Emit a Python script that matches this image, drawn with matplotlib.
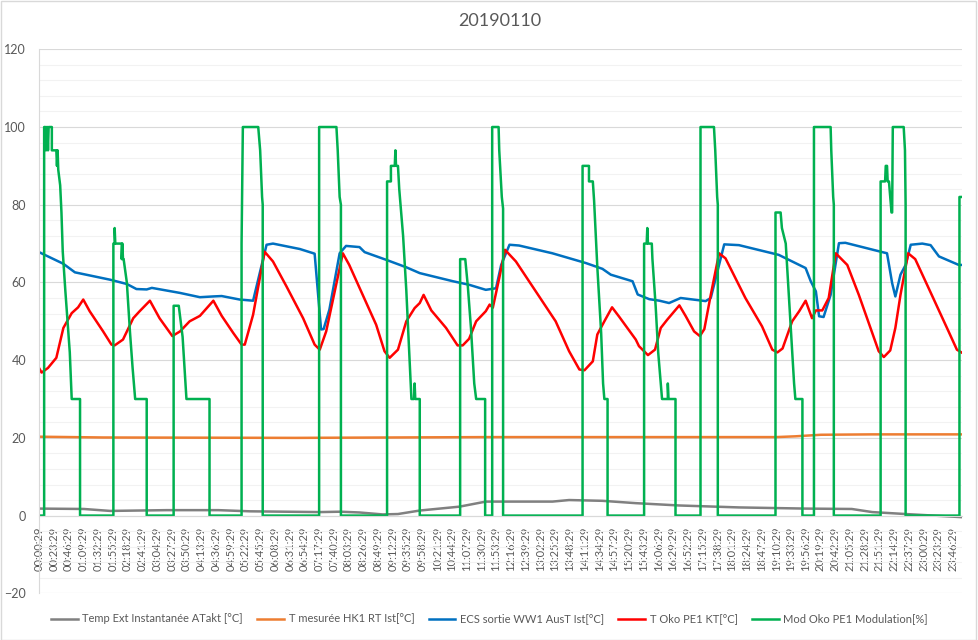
import numpy as np
import matplotlib
matplotlib.use("Agg")
import matplotlib.pyplot as plt

plt.rcParams['font.family'] = ['Lato', 'DejaVu Sans']

# time in minutes after 00:00:29
temp_ext_t = [0, 70, 111, 199, 280, 329, 438, 470, 500, 536, 560, 594, 656, 697, 801, 827, 879, 931,
              999, 1092, 1196, 1268, 1300, 1352, 1439]
temp_ext_v = [1.8, 1.7, 1.2, 1.4, 1.4, 1.1, 0.9, 1.0, 0.8, 0.3, 0.4, 1.3, 2.3, 3.6, 3.6, 4.0, 3.8, 3.2,
              2.6, 2.1, 1.8, 1.7, 0.9, 0.4, -0.4]

hk1_t = [0, 100, 400, 700, 1150, 1180, 1220, 1300, 1439]
hk1_v = [20.3, 20.1, 20.0, 20.2, 20.2, 20.4, 20.8, 20.9, 20.9]

ecs_t = [0, 38, 56, 111, 137, 152, 168, 176, 220, 251, 272, 285, 313, 334, 355, 365, 407, 430, 440,
         444, 453, 469, 479, 500, 508, 542, 573, 594, 646, 671, 697, 713, 721, 734, 749, 801, 853,
         879, 892, 926, 934, 952, 968, 983, 1001, 1040, 1048, 1069, 1092, 1154, 1196, 1204, 1212,
         1217, 1224, 1235, 1248, 1258, 1323, 1331, 1336, 1344, 1352, 1360, 1378, 1391, 1404, 1435, 1439]
ecs_v = [67.8, 64.8, 62.6, 60.7, 59.6, 58.3, 58.2, 58.6, 57.3, 56.2, 56.4, 56.5, 55.6, 55.3, 69.7,
         70.0, 68.6, 67.4, 47.9, 48.0, 53.0, 67.5, 69.4, 69.1, 67.8, 65.8, 63.9, 62.4, 60.3, 59.4,
         58.1, 58.5, 64.5, 69.7, 69.5, 67.5, 65.0, 63.5, 62.0, 60.3, 56.9, 55.7, 55.3, 54.7, 56.0,
         55.2, 56.0, 69.8, 69.6, 67.1, 63.7, 60.3, 57.7, 51.3, 51.1, 56.8, 70.1, 70.2, 67.5, 59.8,
         56.4, 62.0, 64.5, 69.7, 70.0, 69.6, 66.7, 64.5, 64.5]

oko_kt_t = [0, 4, 14, 27, 38, 51, 61, 69, 79, 100, 113, 118, 131, 147, 157, 173, 188, 208, 220, 235,
            251, 272, 285, 303, 316, 321, 334, 352, 365, 386, 412, 430, 438, 448, 458, 474, 484, 505,
            526, 539, 547, 560, 573, 586, 594, 600, 612, 635, 653, 661, 671, 682, 697, 703, 708, 718,
            727, 744, 775, 806, 827, 843, 851, 864, 871, 882, 894, 905, 931, 936, 950, 961, 970, 980,
            999, 1009, 1022, 1031, 1038, 1048, 1061, 1071, 1102, 1128, 1144, 1152, 1160, 1175, 1186,
            1196, 1206, 1212, 1222, 1232, 1243, 1261, 1279, 1310, 1318, 1328, 1336, 1344, 1356, 1367,
            1388, 1419, 1432, 1439]
oko_kt_v = [38.0, 36.8, 38.0, 40.6, 48.3, 52.1, 53.6, 55.6, 52.6, 47.4, 44.0, 43.8, 45.3, 50.8, 52.6,
            55.3, 50.8, 46.2, 47.4, 50.0, 51.4, 55.3, 51.4, 47.0, 44.0, 44.0, 51.7, 67.9, 65.4, 59.0,
            50.8, 44.0, 42.7, 47.4, 55.1, 67.5, 64.5, 56.8, 49.1, 42.3, 40.6, 42.7, 50.0, 53.4, 54.7,
            56.8, 52.8, 48.3, 43.8, 43.8, 45.5, 50.0, 52.6, 54.3, 53.5, 61.1, 68.4, 65.4, 57.7, 50.0,
            42.3, 37.6, 37.4, 39.7, 46.6, 50.0, 53.6, 51.2, 45.3, 43.6, 41.3, 42.7, 48.3, 50.4, 54.1,
            51.3, 47.4, 46.2, 48.0, 56.8, 67.5, 66.2, 56.0, 48.7, 42.7, 42.0, 43.0, 50.0, 52.6, 55.3,
            50.8, 52.8, 52.8, 56.0, 67.5, 64.5, 56.8, 42.3, 40.8, 42.5, 48.3, 56.8, 67.5, 66.0, 58.5,
            47.4, 42.7, 42.0]

mod_t = [0, 8, 8, 10, 11, 12, 13, 14, 15, 20, 20, 27, 28, 29, 30, 33, 35, 37, 41, 44, 48, 51, 64, 64,
         116, 116, 118, 118, 119, 129, 129, 130, 131, 132, 137, 142, 146, 150, 168, 168,
         210, 210, 218, 221, 224, 227, 230, 266, 266,
         316, 316, 318, 342, 345, 348, 349, 349,
         437, 437, 464, 466, 469, 471, 471,
         543, 543, 549, 549, 555, 556, 557, 560, 562, 568, 573, 577, 581, 585, 586, 587, 594, 594,
         657, 657, 665, 669, 674, 679, 682, 696, 696,
         707, 707, 717, 718, 722, 724, 724,
         848, 848, 858, 858, 864, 866, 871, 877, 880, 882, 887, 887,
         944, 944, 948, 949, 950, 956, 957, 962, 966, 970, 972, 981, 981, 982, 993, 993,
         1032, 1032, 1053, 1055, 1058, 1059, 1059,
         1149, 1149, 1157, 1159, 1165, 1170, 1175, 1178, 1180, 1191, 1191,
         1209, 1209, 1235, 1236, 1239, 1240, 1240,
         1313, 1313, 1320, 1321, 1323, 1324, 1326, 1330, 1331, 1332, 1349, 1351, 1352, 1352,
         1436, 1436, 1439]
mod_v = [0, 0, 100, 100, 94, 100, 100, 94, 100, 100, 94, 94, 90, 94, 89, 85, 78, 68, 58, 51, 42, 30, 30, 0,
         0, 70, 70, 74, 70, 70, 66, 70, 66, 66, 60, 47, 38, 30, 30, 0,
         0, 54, 54, 50, 46, 38, 30, 30, 0,
         0, 70, 100, 100, 94, 82, 80, 0,
         0, 100, 100, 94, 82, 80, 0,
         0, 86, 86, 90, 90, 94, 90, 90, 84, 72, 58, 44, 30, 30, 34, 30, 30, 0,
         0, 66, 66, 59, 48, 34, 30, 30, 0,
         0, 100, 100, 94, 82, 79, 0,
         0, 90, 90, 86, 86, 81, 64, 47, 34, 30, 30, 0,
         0, 70, 70, 74, 70, 70, 66, 54, 42, 34, 30, 30, 34, 30, 30, 0,
         0, 100, 100, 94, 82, 80, 0,
         0, 78, 78, 74, 70, 56, 42, 34, 30, 30, 0,
         0, 100, 100, 94, 82, 80, 0,
         0, 86, 86, 90, 90, 86, 86, 78, 78, 100, 100, 94, 80, 0,
         0, 82, 82]

tick_pos = list(range(0, 1440, 23))
tick_labels = ["%02d:%02d:29" % (p // 60, p % 60) for p in tick_pos]

txt = '#595959'
fig = plt.figure(figsize=(9.79, 6.4), dpi=100)
ax = fig.add_axes([38.7 / 979, 1 - 593.3 / 640, 923 / 979, 544 / 640])

ax.plot(temp_ext_t, temp_ext_v, color='#808080', lw=1.8, label='Temp Ext Instantanée ATakt [°C]')
ax.plot(hk1_t, hk1_v, color='#ED7D31', lw=1.8, label='T mesurée HK1 RT Ist[°C]')
ax.plot(ecs_t, ecs_v, color='#0070C0', lw=1.8, label='ECS sortie WW1 AusT Ist[°C]')
ax.plot(oko_kt_t, oko_kt_v, color='#FF0000', lw=1.8, label='T Oko PE1 KT[°C]')
ax.plot(mod_t, mod_v, color='#00B050', lw=1.8, label='Mod Oko PE1 Modulation[%]')

# category axis crosses the value axis at 0
ax.spines['bottom'].set_position(('data', 0))
ax.spines['bottom'].set_color('#d9d9d9')
ax.spines['left'].set_color('#d9d9d9')
ax.spines['top'].set_visible(False)
ax.spines['right'].set_visible(False)

ax.set_xlim(-0.5, 1439.5)
ax.set_ylim(-20, 120)
ax.set_yticks(range(-20, 121, 20))
ax.set_yticks(range(-20, 121, 4), minor=True)
ax.grid(axis='y', which='major', color='#d9d9d9', lw=0.8)
ax.grid(axis='y', which='minor', color='#f2f2f2', lw=0.8)
ax.set_axisbelow(True)

ax.set_xticks(tick_pos)
ax.set_xticklabels(tick_labels, rotation=90, fontsize=8, color=txt)
ax.tick_params(axis='x', length=0, pad=8)
ax.tick_params(axis='y', which='both', length=0, pad=9, labelsize=9, labelcolor=txt)

ax.set_title('20190110', fontsize=13, color=txt, pad=17)

fig.legend(loc='center', bbox_to_anchor=(0.5, 1 - 619 / 640), ncol=5, frameon=False,
           fontsize=8, labelcolor=txt, handlelength=2.4, columnspacing=1.3, handletextpad=0.4)

fig.add_artist(plt.Rectangle((0.5 / 979, 0.5 / 640), 976 / 979, 638.5 / 640,
                             transform=fig.transFigure, fill=False, ec='#d9d9d9', lw=1))

plt.savefig('out.png', dpi=100)
